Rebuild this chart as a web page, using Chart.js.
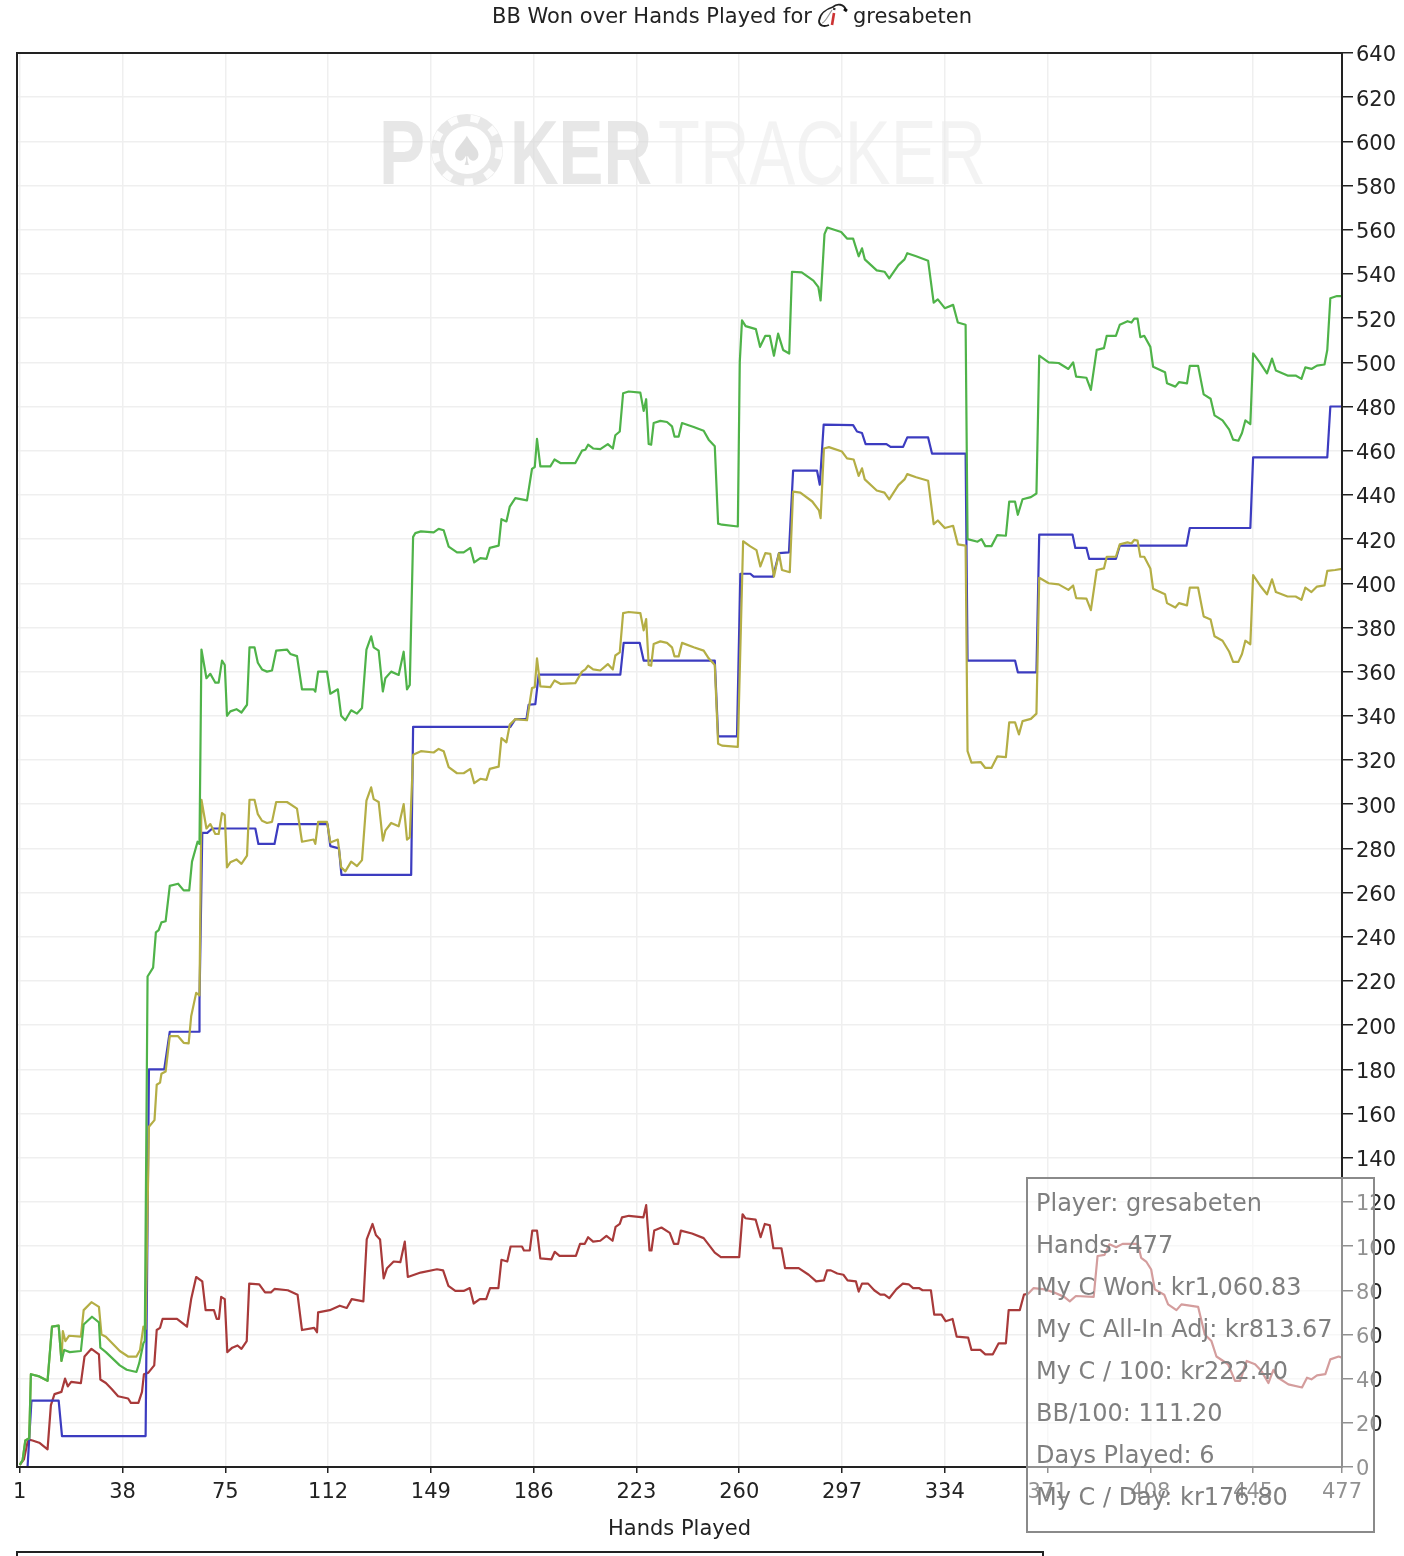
<!DOCTYPE html>
<html>
<head>
<meta charset="utf-8">
<title>BB Won over Hands Played</title>
<script src="https://cdn.jsdelivr.net/npm/chart.js@4/dist/chart.umd.min.js"></script>
<style>
html, body { margin: 0; padding: 0; background: #fff; overflow: hidden; }
body { width: 1404px; height: 1556px; position: relative; font-family: "DejaVu Sans", sans-serif; }
canvas { position: absolute; left: 0; top: 0; filter: blur(0.5px); }
.title { position: absolute; top: 3px; font-size: 21px; line-height: 26px; color: #222; white-space: nowrap; filter: blur(0.3px); }
#icon { position: absolute; left: 817px; top: 2px; filter: blur(0.4px); }
#infoBox { position: absolute; left: 1026px; top: 1177px; width: 345px; height: 352px; border: 2px solid #8a8a8a; background: rgba(255,255,255,0.5); }
#infoBox div { position: absolute; left: 8px; font-size: 24px; line-height: 30px; color: #7f7f7f; white-space: nowrap; filter: blur(0.3px); }
#nextPanel { position: absolute; left: 16px; top: 1551px; width: 1024px; height: 20px; border: 2px solid #222; }
</style>
</head>
<body>
<canvas id="wonChart" width="1404" height="1556"></canvas>
<div class="title" id="titleLeft" style="left:492px"></div>
<svg id="icon" width="32" height="28" viewBox="0 0 32 28">
  <path d="M12 23 C7 25 2 24 2 19 C3 12 9 7 16 5 C20 1 27 2 29 8" fill="none" stroke="#222" stroke-width="1.8"/>
  <path d="M5 21 C8 21 11 14 15 8" fill="none" stroke="#999" stroke-width="1.2"/>
  <path d="M15 23 L17 11" fill="none" stroke="#c33" stroke-width="2.6"/>
  <path d="M17 8 L17.5 6" stroke="#333" stroke-width="2.4"/>
  <path d="M27 7 L30 9" stroke="#111" stroke-width="3"/>
</svg>
<div class="title" id="titleRight" style="left:853px"></div>
<div id="infoBox"></div>
<div id="nextPanel"></div>
<script>
const titleBefore = "BB Won over Hands Played for";
const titleAfter = "gresabeten";
const xAxisName = "Hands Played";
const xTickValues = [1, 38, 75, 112, 149, 186, 223, 260, 297, 334, 371, 408, 445, 477];
const infoLines = ["Player: gresabeten", "Hands: 477", "My C Won: kr1,060.83", "My C All-In Adj: kr813.67", "My C / 100: kr222.40", "BB/100: 111.20", "Days Played: 6", "My C / Day: kr176.80"];

// [hand, bb]
const greenLine = [[1,1],[2,3],[3,12],[4.4,13],[5,42],[8,41],[11,39],[12.6,63.5],[15,64],[16,48],[17,53],[19,52],[23,52.5],[24,64.5],[27,68],[29.5,65.5],[30,54],[32,52],[37,46],[39.5,44],[43,43],[44,47],[45.5,56],[46,57],[47,222],[49,226],[50,242],[51,243],[52,246.5],[53.5,247],[55,263],[58,264],[60,261],[62,261],[63,274],[65,283],[65.7,282],
[66.4,370],[68.2,357],[69.6,359],[71.4,355],[72.6,355],[73.8,365],[74.8,363],[75.6,340],[76.8,342],[79,343],[80.8,341.5],[82.8,345],[83.7,371],[85.5,371],[86.7,364],[88.2,361],[90,360],[91.8,360.5],[93.3,369.5],[97.2,370],[98.4,368],[100.8,367],[102.6,352],[106.8,352],[107.4,351],[108.4,360],[111.6,360],[112.8,350],[115.5,352],[116.7,340],[118.2,338],[120.3,342.5],[122.4,341],[124.2,343.5],[125.8,370],[127.5,376],[128.4,371],[130.2,369.5],[131.7,351],[132.6,357],[134.7,360],[137.4,358.5],[139.2,369],[140.4,352],[141.4,354],
[142.6,421],[143.4,422.7],[145.4,423.5],[150,423],[151.8,424.6],[153.6,424],[155.4,416.6],[158.4,414],[160.8,414],[163.2,416],[164.6,409.4],[166.8,411.4],[169,411],[170.2,416],[173.4,417],[174.4,429],[176.2,428],[177.4,434.7],[179.4,438.5],[183.6,437.5],[185.4,451.8],[186.4,452.6],[187.2,465.4],[188.4,452.9],[192,452.9],[193.5,456],[195.6,454.4],[201,454.4],[203.4,460],[204.6,460.4],[205.6,462.7],[207.4,461],[210,460.7],[212.7,463],[214.5,461],[215.4,467],[217,468.7],[218.2,486],[220.2,486.8],[224.4,486.3],[225.6,478],[226.5,483.3],[227.4,463],[228.3,462.7],[229.2,472.5],[231.6,473.5],[234,473],[235.8,471],[236.7,466.4],[238.2,466.4],[239.4,472.5],[243.6,470.7],[247.2,469],[249,465],[251.2,462],[252.4,427],[253.8,426.5],[259.5,425.7],
[260.2,500],[261,519],[262.3,516.4],[266,515],[267.5,507],[269.4,512],[271,512],[272.5,503],[274,513],[275.8,505.6],[278,504],[279,541],[282.5,540.7],[286.7,537],[288.5,534],[289.3,528],[290.7,558],[291.7,561],[296.7,559],[298.8,556],[301,556],[303,548],[304.2,551.6],[305.2,546.6],[309.5,541.6],[312.3,541],[314,538],[317.3,544],[319.5,546.6],[320.5,549.4],[323.7,548],[328,546],[330,527],[331.5,528.5],[334,524.5],[337,526],[338.7,518],[341.5,517],[342.2,420],[345.8,418.8],[347.2,420],[348.6,416.8],[350.8,416.8],[352.9,421.8],[356,421.5],[357.2,436.9],[359.3,436.9],[360.3,431],[362,438],[365,439],[367,440.6],[368,503],[371.4,500],[375,499.7],[378.5,497],[380.2,500],[381.3,493.5],[385,493],[386.6,487.5],[388.7,505.6],[391.3,506.4],[392.3,512],[395.6,512],[397,517],[399.8,518.6],[401.2,518],[402.2,519.8],[403.4,519.8],[404.4,511.4],[405.8,512],[408,507],[409,498],[413.3,495.5],[414,490.5],[417,489],[418.3,491],[421.2,490.5],[422.2,498.4],[425.2,498.4],[427.2,485.5],[429.7,483.5],[431.1,476],[434,473.7],[436.4,469.5],[437.8,465],[439.7,464.5],[441,468],[442.2,473.7],[444,472],[445,504],[447.5,499.7],[450,495],[451.8,501.7],[453.2,496.3],[457.4,494],[460.3,494],[462.4,492.5],[463.8,497.7],[466,497],[468,498.5],[470.7,499],[471.7,505.6],[472.8,529],[475.2,530],[477,530]];

const yellowLine = [[1,1],[2,3],[3,12],[4.4,13],[5,42],[8,41],[11,39],[12.6,63.5],[15,64],[16,48],[16.5,61.5],[17.4,57],[18.7,59.4],[23,59],[24,71],[26.8,74.6],[29.5,72.5],[30.4,60],[32,59],[37,52.5],[40,50],[43,50],[44.3,53],[45.5,63.5],[46.3,62.5],[47.5,154],[49.5,157],[50.3,173],[51.5,174],[52,178],[53.5,179],[55,195],[58,195],[60,192],[61.8,191.7],[62.7,204],[64.5,214.6],[65.7,213.5],
[66.4,302],[68.2,289],[69.6,291],[71.4,286.5],[72.6,286.5],[73.8,296],[74.8,295],[75.6,271.4],[76.8,273.7],[79,275],[80.8,273],[82.8,276.7],[83.7,302],[85.5,302],[86.7,295.5],[88.2,292.5],[90,291.5],[91.8,292],[93.3,301],[97.2,301],[100.8,298],[102.6,283],[106.8,284],[107.4,282],[108.4,292],[111.6,292],[112.8,282.7],[115.5,284],[116.7,271.4],[118.2,269.6],[120.3,274],[122.4,272],[124.2,274.7],[125.8,301.6],[127.5,307.6],[128.4,302.3],[130.2,301],[131.7,283.5],[132.6,288],[134.7,291.5],[137.4,290],[139.2,300],[140.4,284],[141.4,285],
[142.6,322.4],[145.4,324],[150,323.4],[151.8,325],[153.6,324],[155.4,316.8],[158.4,314],[160.8,314],[163.2,316],[164.6,309.5],[166.8,311.5],[169,311],[170.2,316],[173.4,317],[174.4,329.9],[176.2,328],[177.4,336],[179.4,338.5],[183.6,338],[185.4,352.6],[186.4,353],[187.2,366],[188.4,353.3],[192,353],[193.5,356],[195.6,354.5],[201,354.8],[203.4,360],[204.6,361],[205.6,362.7],[207.4,361],[210,360.5],[212.7,363.4],[214.5,361],[215.4,367.3],[217,368.7],[218.2,386.5],[220.2,387],[224.4,386.5],[225.6,378.7],[226.5,383.8],[227.4,363],[228.3,362.7],[229.2,372.5],[231.6,373.7],[234,373],[235.8,371],[236.7,366.9],[238.2,366.9],[239.4,373],[243.6,371],[247.2,369.5],[249,366],[251.2,363],[252.4,327.4],[253.8,326.5],[259.5,325.9],
[261.4,419],[264,416.7],[266.2,415],[267.6,407.6],[269.4,413.6],[271.2,413.3],[272.5,403],[274.3,413.6],[275.4,406],[278.2,405],[279.4,441.5],[282,441],[286.3,437],[288.7,433],[289.3,429.5],[290.5,461],[292.3,461.6],[297,459.6],[298.8,456.5],[301.2,456],[303,448.6],[304.2,452],[305.2,447],[309.5,442],[312.3,441],[314,438],[317.3,444.4],[319.5,447],[320.5,449.4],[323.7,448],[328,446.4],[330,426.8],[331.5,428.4],[334,425],[337,426],[338.7,417.6],[341.5,417],[342.2,324],[343.6,318.8],[347,319],[348.6,316.4],[350.8,316.4],[352.9,321.6],[356,321.3],[357.2,337],[359.3,337],[360.7,331.6],[362,337.6],[365,338.6],[367,341],[368,402.5],[371.4,400],[375,399.5],[378.5,397],[380.2,399],[381.3,393.3],[385,393],[386.6,387.8],[388.7,406],[391.3,406.7],[392.3,412],[395.6,412],[397,417.6],[399.8,418.5],[401.2,418],[402.2,419.6],[403.4,419.3],[404.4,412],[405.8,412],[408,406.7],[409,397.5],[413.3,395],[414,391],[417,389],[418.3,391],[421.2,390],[422.2,398],[425.2,398],[427.2,385],[429.7,383.6],[431.1,376],[434,374],[436.4,369],[437.8,364.4],[439.7,364.4],[441,368],[442.2,374],[444,372.4],[445,403.7],[447.5,399],[450,395],[451.8,401.8],[453.2,396],[457.4,394],[460.3,394],[462.4,392.5],[463.8,398],[466,396],[468,398.5],[470.7,399],[471.7,405.6],[474.5,406],[477,406.5]];

const blueLine = [[1,0],[3.8,0],[5.2,30],[15,30],[16.2,14],[46.3,14],[47.5,180],[53,180],[55,197],[65.7,197],[65.7,211.5],[66.7,287],[68.5,287],[70.3,289],[85.8,289],[86.9,282],[92.7,282],[94.1,291],[111.8,291],[112.8,281],[115.9,280],[116.8,268],[141.9,268],[142.6,335],[177.6,335],[179.4,338.5],[183.4,338.5],[184.2,345],[186.6,345.3],[187.8,358.6],[217.2,358.6],[218.4,373],[224.2,373],[225.6,365],[251.2,365],[252.4,330.7],[259.2,330.7],[260.4,404.3],[264,404.3],[265.2,403],[272.2,403],[274.3,413.6],[277.9,414],[279.4,451],[288,451],[289,444.6],[290.4,471.8],[301,471.6],[302.4,468.7],[304.2,468],[305.5,463],[313,463],[314.5,461.7],[319,461.7],[320.5,466],[328,466],[329.4,458.7],[341.5,458.7],[342.2,365],[359.3,365],[360.3,359.7],[367,359.7],[368,422],[380,422],[381,416],[385,416],[386,411],[395.6,411],[397,417],[421,417],[422.2,425],[444,425],[445,457],[471.7,457],[472.8,480],[477,480]];

const redLine = [[1,1],[2.5,3.5],[4,12.5],[5.6,12],[8,11],[11,8],[12.2,28],[13.5,33],[16,34],[17.3,40],[18.3,36.5],[19.5,38.5],[23,38],[24.3,50],[26.8,53.5],[29.5,51],[30,39.6],[32,38],[34,35.4],[36.4,32],[40,31],[41,29],[43.7,29],[45,34],[45.7,42],[47.3,42.7],[49.4,46],[50.3,62],[51.5,63],[52.4,67],[57.6,67],[61.2,63.5],[62.7,76],[64.5,86],[66.7,84],[67.9,71],[70.9,71],[71.9,67],[72.7,67],[73.5,77],[74.8,76],[75.7,52],[77.5,54],[79.4,55],[80.8,53.5],[82.7,57],[83.6,83],[87.2,82.7],[89.3,79],[91.4,79],[92.7,80.6],[97.5,80],[101,78],[102.6,62],[107,63],[108,61],[108.4,70],[112.6,71],[116.2,73],[118.7,72],[120.5,76],[124.7,75],[125.9,103],[128,110],[129.2,105],[130.7,103],[132,85.4],[133.2,90],[135.6,93],[138,92.7],[139.6,102],[140.7,86],[145.3,88],[151.2,89.5],[153.4,89],[155.3,82],[157.8,79.7],[160.8,79.7],[163,81],[164.4,74],[166.6,76],[168.9,76],[170.3,81],[173.3,81],[174.4,93.8],[176.5,93],[177.7,99.8],[181.8,99.8],[182.5,98],[184.6,98],[185.5,107],[187.2,107],[188.4,94.4],[192.4,94],[193.6,97.4],[195.3,95.6],[201.2,95.6],[202.7,101],[204.4,101],[205.6,104],[207.4,102],[210,102.4],[212.2,104.6],[214.4,102.4],[215.5,108.7],[217,110],[217.8,113],[220.3,113.7],[225.5,113],[226.5,118.5],[227.7,98],[228.4,98],[229.4,107],[232,108.4],[235,106],[236.5,101],[238,101],[239,107],[243,105.7],[247.2,103.6],[251.2,97],[253.4,95],[260,95],[261.2,114.4],[262.2,112.6],[265.9,112],[267.7,104],[269.2,110],[271,109.4],[272.3,99],[275.2,99],[276.5,90],[281.4,90],[285,87],[287.7,84],[290.5,84.5],[291.6,89],[293,89],[295.3,87.6],[297.5,87],[299,84.5],[302,84],[303,79.4],[304.2,83],[306.4,83],[308.6,80],[310.8,78],[312.3,78],[314,76.4],[316.6,80.5],[318.9,83],[321,82.7],[322.6,81],[324.7,81],[326,80],[329,80],[330.2,69],[332.8,69],[334.3,66],[336.8,67],[338.3,59],[342.4,58.6],[343.6,53],[346.8,53],[348.6,51],[351.3,51],[353.4,56],[356,56],[357,71],[361,71],[362.5,78],[364,78.4],[366,81],[370,80.4],[373.4,79],[377,77],[379,75],[381.2,77.4],[387.6,77],[389,95.5],[391.5,96],[393.3,100.8],[395.7,99.5],[398,101],[403.5,101],[404.7,94.7],[406.5,93],[408.3,89.4],[409.6,80.4],[413,78],[414.4,73.6],[417.4,71],[419.2,73.6],[425.2,72.5],[427.6,60],[430,57],[431.8,50],[436,46.5],[438.5,39],[440.3,39],[442.7,48],[445.7,46.5],[448,43.4],[450.5,38],[452.3,44],[454,40.4],[457.7,37.4],[462.6,36],[464.4,40.4],[466,39.7],[468,41.5],[471,42],[472.8,48.7],[475.8,50],[477,49.5]];

document.getElementById("titleLeft").textContent = titleBefore;
document.getElementById("titleRight").textContent = titleAfter;
const infoBox = document.getElementById("infoBox");
infoLines.forEach((line, i) => {
    const row = document.createElement("div");
    row.textContent = line;
    row.style.top = (9 + i * 42) + "px";
    infoBox.appendChild(row);
});

function toPoints(pairs) {
    return pairs.map(p => ({ x: p[0], y: p[1] }));
}

function lineSet(label, pairs, color) {
    return {
        label: label,
        data: toPoints(pairs),
        borderColor: color,
        borderWidth: 2.2,
        borderJoinStyle: "round",
        pointRadius: 0,
        tension: 0,
        fill: false
    };
}

function fitText(ctx, text, x, y, width) {
    const w = ctx.measureText(text).width;
    ctx.save();
    ctx.translate(x, y);
    ctx.scale(width / w, 1);
    ctx.fillText(text, 0, 0);
    ctx.restore();
}

// faint logo behind the lines
const watermark = {
    id: "watermark",
    beforeDatasetsDraw(chart) {
        const ctx = chart.ctx;
        ctx.save();
        ctx.textBaseline = "alphabetic";
        ctx.font = 'bold 91px "Liberation Sans"';
        ctx.fillStyle = "rgba(215,215,215,0.6)";
        fitText(ctx, "P", 379, 184, 46);
        fitText(ctx, "KER", 510, 184, 142);
        ctx.beginPath();
        ctx.ellipse(467, 150, 36, 36, 0, 0, Math.PI * 2);
        ctx.fill();
        ctx.strokeStyle = "rgba(255,255,255,0.9)";
        ctx.lineWidth = 7;
        ctx.setLineDash([9, 13]);
        ctx.beginPath();
        ctx.ellipse(467, 150, 32, 32, 0, 0, Math.PI * 2);
        ctx.stroke();
        ctx.setLineDash([]);
        ctx.fillStyle = "#fff";
        ctx.beginPath();
        ctx.ellipse(467, 150, 24, 24, 0, 0, Math.PI * 2);
        ctx.fill();
        ctx.fillStyle = "rgba(215,215,215,0.8)";
        ctx.font = '40px "DejaVu Sans"';
        ctx.textAlign = "center";
        ctx.fillText("\u2660", 467, 165);
        ctx.textAlign = "left";
        ctx.font = '91px "Liberation Sans"';
        ctx.fillStyle = "rgba(235,235,235,0.6)";
        fitText(ctx, "TRACKER", 658, 184, 328);
        ctx.restore();
    }
};

// top and left edges of the plot
const plotFrame = {
    id: "plotFrame",
    afterDraw(chart) {
        const ctx = chart.ctx;
        const a = chart.chartArea;
        ctx.save();
        ctx.strokeStyle = "#222";
        ctx.lineWidth = 2;
        ctx.strokeRect(a.left, a.top, a.right - a.left, a.bottom - a.top);
        ctx.restore();
    }
};

// DejaVu sits a little high on the middle baseline, nudge the y labels down
function nudgeLabels(scale) {
    if (scale.nudged) return;
    scale.nudged = true;
    const drawLabels = scale.drawLabels;
    scale.drawLabels = function (area) {
        scale.ctx.save();
        scale.ctx.translate(0, 3);
        drawLabels.call(scale, area);
        scale.ctx.restore();
    };
}

const wonChart = new Chart(document.getElementById("wonChart"), {
    type: "line",
    data: {
        datasets: [
            lineSet("Won", greenLine, "#4fb349"),
            lineSet("All-In Adj", yellowLine, "#b4ae45"),
            lineSet("Expected", blueLine, "#3c3cc0"),
            lineSet("Non-showdown", redLine, "#a83a3a")
        ]
    },
    plugins: [watermark, plotFrame],
    options: {
        responsive: false,
        devicePixelRatio: 1,
        animation: false,
        layout: { padding: { left: 17, top: 53, right: 0, bottom: 0 } },
        plugins: { legend: { display: false }, tooltip: { enabled: false }, title: { display: false } },
        scales: {
            x: {
                type: "linear",
                min: 0,
                max: 477,
                afterBuildTicks(scale) {
                    scale.ticks = xTickValues.map(v => ({ value: v }));
                },
                afterFit(scale) {
                    scale.height = 89;
                },
                border: { color: "#222", width: 2 },
                grid: { color: "#efefef", lineWidth: 1.5, tickColor: "#222", tickLength: 6 },
                ticks: {
                    autoSkip: false,
                    maxRotation: 0,
                    padding: 7,
                    color: "#222",
                    font: { family: "DejaVu Sans", size: 21 },
                    callback: v => String(v)
                },
                title: {
                    display: true,
                    text: xAxisName,
                    color: "#222",
                    padding: { top: 6, bottom: 14 },
                    font: { family: "DejaVu Sans", size: 21 }
                }
            },
            y: {
                position: "right",
                min: 0,
                max: 640,
                afterFit(scale) {
                    scale.width = 62;
                    nudgeLabels(scale);
                },
                border: { color: "#222", width: 2 },
                grid: { color: "#efefef", lineWidth: 1.5, tickColor: "#222", tickLength: 11 },
                ticks: {
                    stepSize: 20,
                    autoSkip: false,
                    padding: 3,
                    color: "#222",
                    font: { family: "DejaVu Sans", size: 21 }
                }
            }
        }
    }
});
</script>
</body>
</html>
